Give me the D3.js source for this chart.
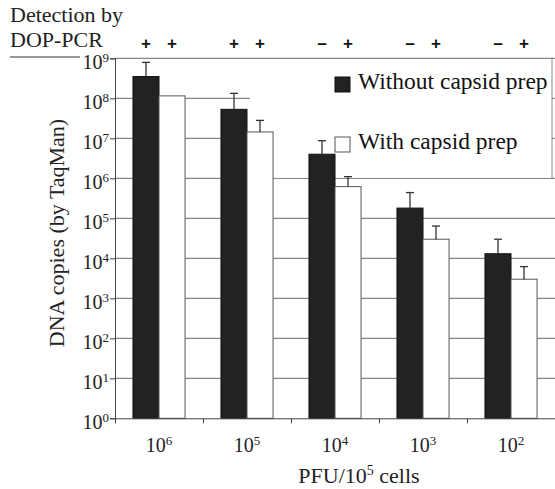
<!DOCTYPE html>
<html>
<head>
<meta charset="utf-8">
<script src="https://cdn.jsdelivr.net/npm/d3@7"></script>
<style>
  body { margin: 0; background: #fff; }
  svg { display: block; }
</style>
</head>
<body>
<div id="chart"></div>
<script>
// PFU per 10^5 cells, shown as exponents
const pfuExp = [6, 5, 4, 3, 2];
const seriesNames = ['Without capsid prep', 'With capsid prep'];
const withoutPrep = [3.5e8, 5.3e7, 4.0e6, 1.8e5, 1.3e4];
const withPrep = [1.15e8, 1.44e7, 6.2e5, 3.0e4, 3.0e3];
// top of error bars
const withoutErrTop = [7.9e8, 1.33e8, 8.7e6, 4.4e5, 3.0e4];
const withErrTop = [null, 2.8e7, 1.1e6, 6.4e4, 6.2e3];
// detection by DOP-PCR
const detectWithout = ['+', '+', '-', '-', '-'];
const detectWith = ['+', '+', '+', '+', '+'];
const yTickExp = [0, 1, 2, 3, 4, 5, 6, 7, 8, 9];

const W = 555, H = 489;
const plot = {left: 115, right: 555, top: 58.3, bottom: 418.3};
const serif = 'Liberation Serif';

const svg = d3.select('#chart').append('svg')
  .attr('width', W).attr('height', H);

const x = d3.scaleBand().domain(pfuExp).range([plot.left, plot.right]);
const x1 = d3.scaleBand().domain(seriesNames).range([0, x.bandwidth()]).paddingOuter(0.69);
const y = d3.scaleLog().domain([1, 1e9]).range([plot.bottom, plot.top]);

// gridlines
svg.append('g').selectAll('line')
  .data(yTickExp.filter(e => e > 0))
  .enter().append('line')
    .attr('x1', plot.left).attr('x2', plot.right)
    .attr('y1', e => y(Math.pow(10, e))).attr('y2', e => y(Math.pow(10, e)))
    .attr('stroke', '#6a6a6a').attr('stroke-width', 1);

// line under the DOP-PCR label
svg.append('line')
  .attr('x1', 10).attr('x2', 80).attr('y1', 57).attr('y2', 57)
  .attr('stroke', '#333').attr('stroke-width', 1.2);

// legend box (covers gridlines)
svg.append('rect')
  .attr('x', 250).attr('y', plot.top + 1).attr('width', 302).attr('height', y(1e6) - plot.top - 1.5)
  .attr('fill', '#fff');
svg.append('line')
  .attr('x1', 552).attr('x2', 552).attr('y1', plot.top).attr('y2', y(1e6))
  .attr('stroke', '#888');

// bars
const rows = pfuExp.map((p, i) => ({
  p: p,
  vals: [
    {s: seriesNames[0], v: withoutPrep[i], e: withoutErrTop[i]},
    {s: seriesNames[1], v: withPrep[i], e: withErrTop[i]}
  ]
}));

const fills = {'Without capsid prep': '#222', 'With capsid prep': '#fff'};
const strokes = {'Without capsid prep': '#111', 'With capsid prep': '#555'};

const groups = svg.append('g').selectAll('g')
  .data(rows).enter().append('g')
    .attr('transform', d => 'translate(' + x(d.p) + ',0)');

groups.selectAll('rect')
  .data(d => d.vals).enter().append('rect')
    .attr('x', d => x1(d.s))
    .attr('y', d => y(d.v))
    .attr('width', x1.bandwidth())
    .attr('height', d => y(1) - y(d.v))
    .attr('fill', d => fills[d.s])
    .attr('stroke', d => strokes[d.s])
    .attr('stroke-width', 1);

// error bars
const errs = groups.selectAll('g.err')
  .data(d => d.vals.filter(v => v.e)).enter().append('g')
    .attr('class', 'err')
    .attr('stroke', '#333').attr('stroke-width', 1.3);
errs.append('line')
  .attr('x1', d => x1(d.s) + x1.bandwidth() / 2)
  .attr('x2', d => x1(d.s) + x1.bandwidth() / 2)
  .attr('y1', d => y(d.v)).attr('y2', d => y(d.e));
errs.append('line')
  .attr('x1', d => x1(d.s) + x1.bandwidth() / 2 - 4)
  .attr('x2', d => x1(d.s) + x1.bandwidth() / 2 + 4)
  .attr('y1', d => y(d.e)).attr('y2', d => y(d.e));

// y axis
const yAxis = svg.append('g')
  .attr('transform', 'translate(' + plot.left + ',0)')
  .call(d3.axisLeft(y).tickValues(yTickExp.map(e => Math.pow(10, e))).tickSize(5).tickFormat(''));
yAxis.select('.domain').attr('stroke', '#444');
yAxis.selectAll('.tick line').attr('stroke', '#444');
yAxis.selectAll('.tick').each(function(d) {
  const t = d3.select(this).append('text')
    .attr('x', -6).attr('y', 10)
    .attr('text-anchor', 'end')
    .attr('fill', '#222')
    .attr('font-family', serif)
    .attr('font-size', 20);
  t.append('tspan').text('10');
  t.append('tspan').attr('dy', -7).attr('font-size', 13).text(Math.round(Math.log10(d)));
});

// x axis: ticks at group boundaries
const xb = d3.scaleLinear().domain([0, pfuExp.length]).range([plot.left, plot.right]);
const xAxis = svg.append('g')
  .attr('transform', 'translate(0,' + plot.bottom + ')')
  .call(d3.axisBottom(xb).tickValues(d3.range(pfuExp.length + 1)).tickSize(5).tickFormat(''));
xAxis.select('.domain').attr('stroke', '#444');
xAxis.selectAll('.tick line').attr('stroke', '#444');

const xl = svg.append('g').selectAll('text')
  .data(pfuExp).enter().append('text')
    .attr('x', d => x(d) + x.bandwidth() / 2)
    .attr('y', 451.5)
    .attr('text-anchor', 'middle')
    .attr('fill', '#222')
    .attr('font-family', serif)
    .attr('font-size', 20);
xl.append('tspan').text('10');
xl.append('tspan').attr('dy', -7).attr('font-size', 13).text(d => d);

// axis titles
const xt = svg.append('text')
  .attr('x', 359).attr('y', 483)
  .attr('text-anchor', 'middle')
  .attr('fill', '#222')
  .attr('font-family', serif)
  .attr('font-size', 22);
xt.append('tspan').text('PFU/10');
xt.append('tspan').attr('dy', -8).attr('font-size', 14).text('5');
xt.append('tspan').attr('dy', 8).text(' cells');

svg.append('text')
  .attr('transform', 'translate(64,233) rotate(-90)')
  .attr('text-anchor', 'middle')
  .attr('fill', '#222')
  .attr('font-family', serif)
  .attr('font-size', 22)
  .text('DNA copies (by TaqMan)');

// detection header
svg.append('text').attr('x', 10).attr('y', 21.5)
  .attr('fill', '#222').attr('font-family', serif).attr('font-size', 22).text('Detection by');
svg.append('text').attr('x', 10).attr('y', 46.5)
  .attr('fill', '#222').attr('font-family', serif).attr('font-size', 22).text('DOP-PCR');

const signs = [];
pfuExp.forEach((p, i) => {
  signs.push({p: p, s: seriesNames[0], t: detectWithout[i]});
  signs.push({p: p, s: seriesNames[1], t: detectWith[i]});
});
svg.append('g').selectAll('text')
  .data(signs).enter().append('text')
    .attr('x', d => x(d.p) + x1(d.s) + x1.bandwidth() / 2)
    .attr('y', 48.5)
    .attr('text-anchor', 'middle')
    .attr('fill', '#111')
    .attr('font-family', 'Liberation Sans')
    .attr('font-weight', 'bold')
    .attr('font-size', 17)
    .text(d => d.t === '-' ? '–' : '+');

// legend
const legend = svg.append('g').selectAll('g')
  .data(seriesNames).enter().append('g')
    .attr('transform', (d, i) => 'translate(335,' + (77 + i * 60) + ')');
legend.append('rect')
  .attr('width', 15).attr('height', 15)
  .attr('fill', d => fills[d])
  .attr('stroke', d => strokes[d]).attr('stroke-width', 1);
legend.append('text')
  .attr('x', 23).attr('y', 12)
  .attr('fill', '#111')
  .attr('font-family', serif)
  .attr('font-size', 23.5)
  .text(d => d);
</script>
</body>
</html>
